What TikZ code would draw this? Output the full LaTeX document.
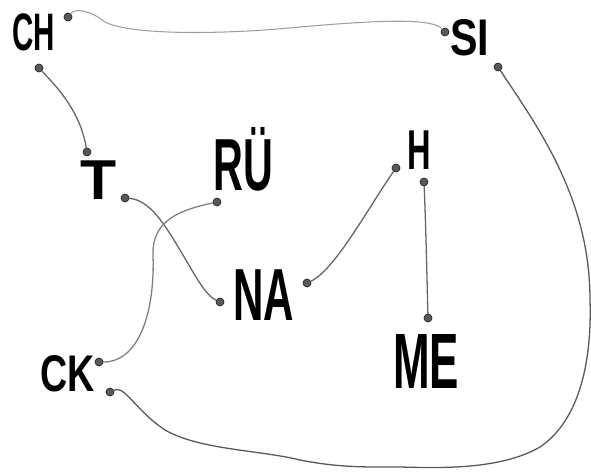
\documentclass[tikz,border=0pt]{standalone}
\usepackage{fontspec}
\usepackage{graphicx}
\setmainfont{Liberation Sans}
\newcommand\hw[3]{\scalebox{#2}[1]{\fontsize{#1}{#1}\selectfont\bfseries #3}}
\begin{document}
\begin{tikzpicture}[x=0.03cm,y=-0.03cm,
  lbl/.style={anchor=base west,inner sep=0pt,text=black},
  dot/.style={circle,inner sep=0pt,minimum size=0.24cm,fill=black!65,draw=black!85,line width=0.6pt},
  wire/.style={draw=black!60,line width=1.1pt,line cap=round},
  lightwire/.style={draw=black!38,line width=0.9pt,line cap=round}]
\useasboundingbox (0,0) rectangle (591,472);
% labels
\node[lbl] (CH) at (12,50) {\hw{45}{0.56}{CH}};
\node[lbl] (SI) at (450,55) {\hw{44}{0.8}{SI}};
\node[lbl] (T) at (80,199) {\hw{48}{1.05}{T}};
\node[lbl] (RU) at (213,190) {\hw{63}{0.56}{RÜ}};
\node[lbl] (H) at (407,169) {\hw{48}{0.58}{H}};
\node[lbl] (NA) at (233,320) {\hw{63}{0.57}{NA}};
\node[lbl] (ME) at (393,388) {\hw{67}{0.56}{ME}};
\node[lbl] (CK) at (40,391) {\hw{44}{0.73}{CK}};
% dots
\node[dot] (ch1) at (68,17) {};
\node[dot] (ch2) at (39,68) {};
\node[dot] (t1) at (87,152) {};
\node[dot] (t2) at (125,198) {};
\node[dot] (ru1) at (217,202) {};
\node[dot] (si1) at (445,32) {};
\node[dot] (si2) at (498,67) {};
\node[dot] (h1) at (396,168) {};
\node[dot] (h2) at (424,182) {};
\node[dot] (na1) at (220,302) {};
\node[dot] (na2) at (307,283) {};
\node[dot] (me1) at (428,318) {};
\node[dot] (ck1) at (99,362) {};
\node[dot] (ck2) at (110,392) {};
% connectors
\draw[lightwire] (ch1) .. controls (75,8) and (90,10) .. (105,22)
  .. controls (130,35) and (220,35) .. (300,27)
  .. controls (380,20) and (432,18) .. (si1);
\draw[wire] (ch2) .. controls (55,85) and (80,110) .. (t1);
\draw[wire] (t2) .. controls (150,200) and (165,225) .. (180,250)
  .. controls (195,275) and (205,295) .. (na1);
\draw[wire,draw=black!50] (ru1) .. controls (180,210) and (152,220) .. (153,255)
  .. controls (155,310) and (140,362) .. (ck1);
\draw[wire] (h1) .. controls (370,205) and (335,270) .. (na2);
\draw[wire] (h2) .. controls (426,230) and (427,280) .. (me1);
\draw[wire,draw=black!65] (si2) .. controls (540,130) and (590,200) .. (590,300)
  .. controls (592,360) and (580,420) .. (540,447)
  .. controls (500,470) and (440,468) .. (400,467)
  .. controls (370,467) and (340,468) .. (300,460)
  .. controls (260,450) and (200,450) .. (165,430)
  .. controls (135,410) and (125,385) .. (ck2);
\end{tikzpicture}
\end{document}
